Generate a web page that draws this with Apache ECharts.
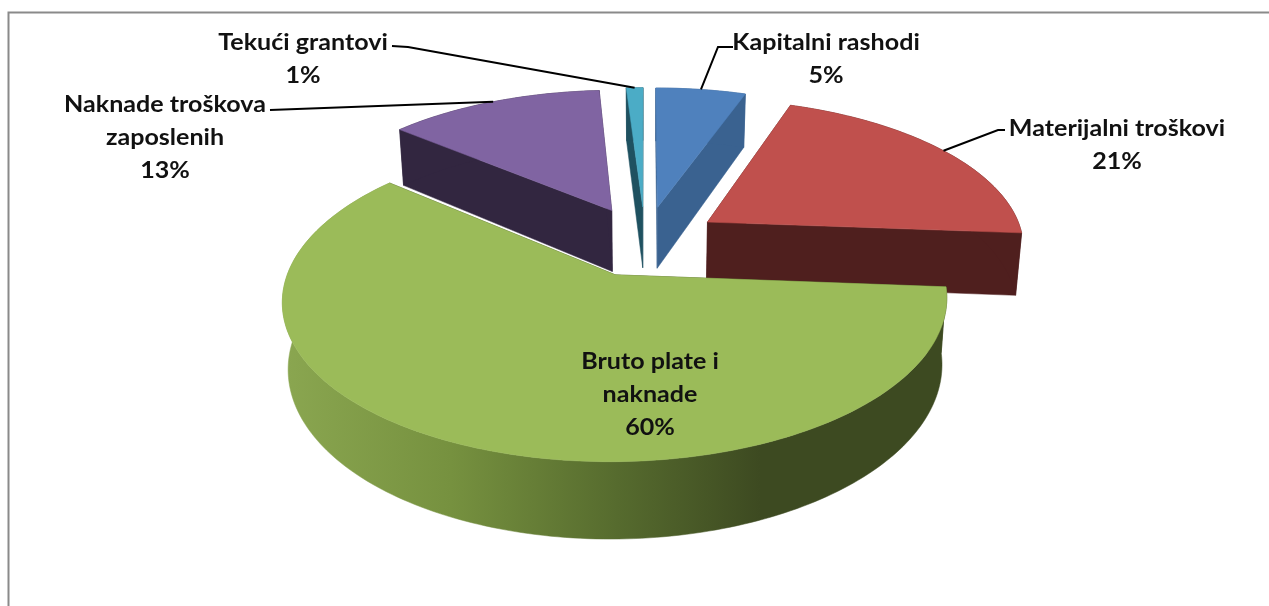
<!DOCTYPE html>
<html><head><meta charset="utf-8">
<style>html,body{margin:0;padding:0;background:#fff}#c{width:1269px;height:606px}</style>
<script src="https://cdn.jsdelivr.net/npm/echarts@6/dist/echarts.min.js"></script>
</head><body><div id="c"></div>
<script>
// data
const categories = ['Kapitalni rashodi','Materijalni troškovi','Bruto plate i\nnaknade','Naknade troškova\nzaposlenih','Tekući grantovi'];
const values = [5.4, 20.8, 59.9, 12.9, 1.0];
// colours
const topColors = ['#4f81bd','#c0504d','#9bbb59','#8064a2','#4bacc6'];
const sideColors = ['#3a6290','#4f1f1e','#5f7a35','#322640','#1f5160'];
// label placement: [text centre x, first-line centre y]
const labelPos = [[826,43],[1117,129],[650,362],[165,105],[303,43]];
// leader elbows (from label to slice)
const leaderElbow = [[[733,47],[718,47]],[[1005,130],[998,130]],null,[[270,110]],[[392,46],[408,47]]];

const C = {cx:645, cy:241, A:317, B:147, K:0.152, e:0.24, H:63, xs:0.984};
function proj(u,v,bottom){
  const d = 1 + C.K*v;
  let x = C.A*u/d, y = -C.B*v/d;
  if (bottom){ x *= C.xs; y += C.H/d; }
  return [C.cx+x, C.cy+y];
}
const total = values.reduce((a,b)=>a+b,0);
const slices = []; let acc = 0;
values.forEach((v,i)=>{ const s=acc/total*2*Math.PI; acc+=v; const t=acc/total*2*Math.PI; slices.push({i,s,t,mid:(s+t)/2}); });
function disc(sl,ang,r){ const ox=C.e*Math.sin(sl.mid), oy=C.e*Math.cos(sl.mid);
  return [ox+r*Math.sin(ang), oy+r*Math.cos(ang)]; }
function arc(sl,bottom){ const n=Math.max(6,Math.ceil((sl.t-sl.s)/0.02)); const out=[];
  for(let k=0;k<=n;k++){ const a=sl.s+(sl.t-sl.s)*k/n; const p=disc(sl,a,1); out.push(proj(p[0],p[1],bottom)); }
  return out; }
const order = slices.slice().sort((a,b)=>Math.cos(b.mid)-Math.cos(a.mid)).map(s=>[s.i]);
const greenWall = new echarts.graphic.LinearGradient(285,0,760,0,[
  {offset:0,color:'#8aa650'},{offset:0.35,color:'#76913f'},{offset:0.7,color:'#566b2e'},{offset:1,color:'#3d4a21'}],true);

function renderItem(params,api){
  const i = api.value(0), sl = slices[i];
  const top = arc(sl,false), bot = arc(sl,true);
  const c0 = disc(sl,0,0), tipT = proj(c0[0],c0[1],false), tipB = proj(c0[0],c0[1],true);
  const sideFill = i===2 ? greenWall : sideColors[i];
  const flat = i===2 ? '#3d4a21' : sideColors[i];
  const poly = (pts,fill)=>({type:'polygon',shape:{points:pts},style:{fill:fill,stroke:fill,lineWidth:0.5}});
  const ch = [];
  ch.push(poly([tipT,top[0],bot[0],tipB],flat));
  ch.push(poly([tipT,top[top.length-1],bot[bot.length-1],tipB],flat));
  ch.push(poly(top.concat(bot.slice().reverse()),sideFill));
  ch.push(poly([tipT].concat(top),topColors[i]));
  if (leaderElbow[i]) {
    const m = disc(sl,sl.mid,1);
    ch.push({type:'polyline',shape:{points:leaderElbow[i].concat([proj(m[0],m[1],false)])},
      style:{stroke:'#000',lineWidth:2,fill:null}});
  }
  const pct = Math.round(values[i]/total*100)+'%';
  ch.push({type:'text',x:labelPos[i][0],y:labelPos[i][1]-16,scaleX:1.14,
    style:{x:0,y:0,text:categories[i]+'\n'+pct,
    fill:'#111',font:'700 22px Lato',align:'center',verticalAlign:'top',lineHeight:32.7}});
  return {type:'group',children:ch};
}
const chart = echarts.init(document.getElementById('c'),null,{renderer:'canvas'});
chart.setOption({
  animation:false, backgroundColor:'#fff',
  graphic:[{type:'polyline',shape:{points:[[8.5,606],[8.5,12.5],[1269,12.5]]},style:{stroke:'#8a8a8a',lineWidth:2,fill:null},silent:true}],
  series:[{type:'custom',coordinateSystem:'none',renderItem:renderItem,data:order,encode:{value:0},silent:true,clip:false}]
});
</script></body></html>
